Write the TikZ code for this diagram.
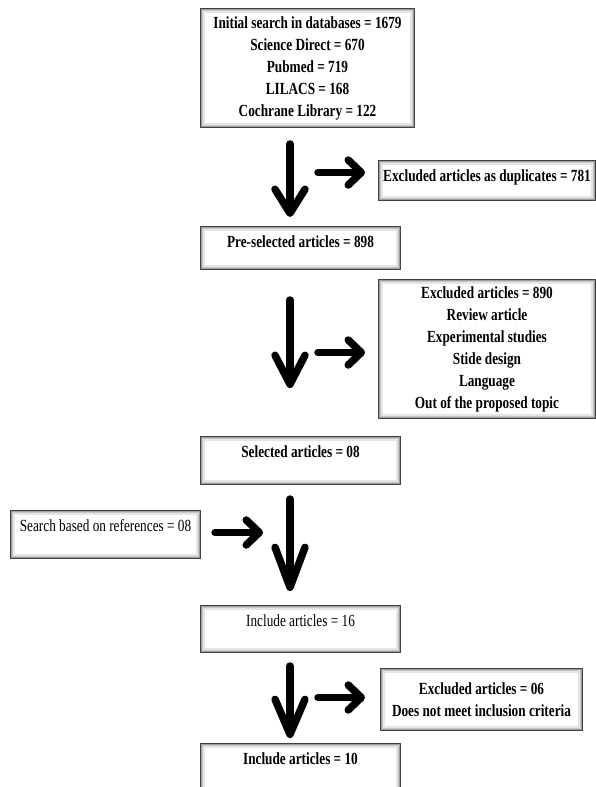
\documentclass[tikz,border=0pt]{standalone}
\usepackage{fontspec}
\setmainfont{Liberation Serif}[FakeStretch=0.78]
\usetikzlibrary{arrows.meta,positioning,calc}

\begin{document}
\begin{tikzpicture}[x=1bp,y=-1bp,line cap=round,line join=round,
	bigdown/.style={line width=7.5bp,-{Straight Barb[round,length=#1,width=30bp]}},
	bigright/.style={line width=7.5bp,-{Straight Barb[round,length=13bp,width=25bp]}}]
	\tikzstyle{frame}=[draw=black!75,line width=1bp,fill=white,inner sep=0pt,
	path picture={
		\draw[gray!20,line width=9bp] (path picture bounding box.south west) rectangle (path picture bounding box.north east);
		\draw[gray!45,line width=5bp] (path picture bounding box.south west) rectangle (path picture bounding box.north east);
		\draw[gray!75,line width=2.5bp] (path picture bounding box.south west) rectangle (path picture bounding box.north east);}]
	\tikzstyle{tall}=[frame,align=center,anchor=north west]
	\tikzstyle{flat}=[frame,anchor=north west,text height=21bp]
	\tikzstyle{boldtext}=[font=\fontsize{17bp}{22bp}\selectfont\bfseries]
	\tikzstyle{plaintext}=[font=\fontsize{17bp}{22bp}\selectfont]
	
	\useasboundingbox (0,0) rectangle (596,787);
	
	\node[tall,boldtext,minimum width=214bp,minimum height=119bp] (init) at (200,8)
	{Initial search in databases = 1679\\Science Direct = 670\\Pubmed = 719\\LILACS = 168\\Cochrane Library = 122};
	\node[flat,boldtext,minimum width=200bp,text depth=22bp] (pre) [below=98bp of init.south west,anchor=north west] {Pre-selected articles = 898};
	\node[flat,boldtext,minimum width=200bp,text depth=27bp] (sel) [below=166bp of pre.south west,anchor=north west] {Selected articles = 08};
	\node[flat,plaintext,minimum width=200bp,text depth=26bp] (inc16) [below=120bp of sel.south west,anchor=north west] {Include articles = 16};
	\node[flat,boldtext,minimum width=200bp,text depth=29bp] (inc10) [below=90bp of inc16.south west,anchor=north west] {Include articles = 10};
	
	\node[flat,boldtext,minimum width=217bp,text depth=19bp] (dup) at (378,160) {Excluded articles as duplicates = 781};
	\node[tall,boldtext,minimum width=217bp,minimum height=139bp] (exc890) at (378,279)
	{Excluded articles = 890\\Review article\\Experimental studies\\Stide design\\Language\\Out of the proposed topic};
	\node[flat,plaintext,minimum width=190bp,text depth=27bp] (refs) at (10,510) {Search based on references = 08};
	\node[tall,boldtext,minimum width=202bp,minimum height=62bp] (exc06) at (380,668)
	{Excluded articles = 06\\Does not meet inclusion criteria};
	
	\coordinate (col) at (290,0);
	
	\draw[bigdown=24bp] ($(init.south -| col)+(0,16)$) -- ($(pre.north -| col)+(0,-9)$);
	\draw[bigright] ($(dup.west)+(-60,-8)$) -- ($(dup.west)+(-13,-8)$);
	\draw[bigdown=29bp] ($(pre.south -| col)+(0,30)$) -- ($(sel.north -| col)+(0,-48)$);
	\draw[bigright] ($(exc890.west)+(-60,3.5)$) -- ($(exc890.west)+(-13,3.5)$);
	\draw[bigdown=40bp] ($(sel.south -| col)+(0,14)$) -- ($(inc16.north -| col)+(0,-14)$);
	\draw[bigright] ($(refs.east)+(14,-2)$) -- ($(refs.east)+(62,-2)$);
	\draw[bigdown=35bp] ($(inc16.south -| col)+(0,13)$) -- ($(inc10.north -| col)+(0,-5)$);
	\draw[bigright] ($(exc06.west)+(-62,-2)$) -- ($(exc06.west)+(-15,-2)$);
	
\end{tikzpicture}
\end{document}
